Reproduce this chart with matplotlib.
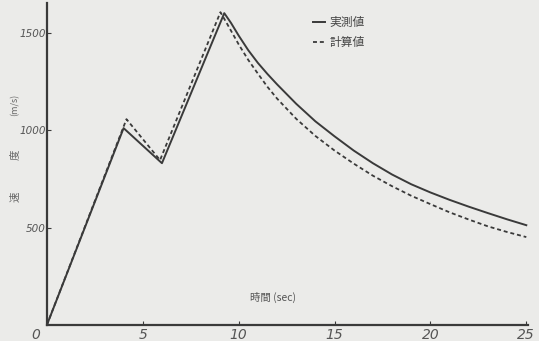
import matplotlib
matplotlib.use("Agg")
import matplotlib.pyplot as plt

plt.rcParams['font.family'] = ['Noto Sans CJK JP', 'DejaVu Sans']

# measured (実測値) - solid
t_meas = [0, 4.0, 6.0, 9.25, 9.6, 10, 10.5, 11, 11.5, 12, 13, 14, 15, 16, 17,
          18, 19, 20, 21, 22, 23, 24, 25]
v_meas = [0, 1010, 830, 1600, 1550, 1485, 1410, 1345, 1288, 1235, 1135, 1045,
          968, 895, 830, 772, 722, 680, 642, 607, 574, 542, 512]

# calculated (計算値) - dashed
t_calc = [0, 4.15, 5.9, 9.05, 9.4, 10, 10.5, 11, 11.5, 12, 13, 14, 15, 16, 17,
          18, 19, 20, 21, 22, 23, 24, 25]
v_calc = [0, 1056, 846, 1605, 1545, 1440, 1360, 1290, 1222, 1162, 1058, 970,
          895, 828, 766, 712, 663, 620, 578, 541, 506, 477, 451]

x_ticks = [5, 10, 15, 20, 25]
y_ticks = [500, 1000, 1500]

bg = '#ebebe9'
ink = '#3a3a3a'
dash = (0, (2.2, 1.6))

fig = plt.figure(figsize=(5.39, 3.41), dpi=100, facecolor=bg)
ax = fig.add_axes([0.087, 0.047, 0.893, 0.943], facecolor=bg)

ax.plot(t_meas, v_meas, color=ink, lw=1.4, label='実測値')
ax.plot(t_calc, v_calc, color=ink, lw=1.3, ls=dash, label='計算値')

ax.set_xlim(0, 25.1)
ax.set_ylim(0, 1650)
for s in ['top', 'right']:
    ax.spines[s].set_visible(False)
for s in ['left', 'bottom']:
    ax.spines[s].set_color(ink)
    ax.spines[s].set_linewidth(1.6)

ax.set_xticks(x_ticks)
ax.set_yticks(y_ticks)
ax.set_xticklabels([str(v) for v in x_ticks], fontstyle='italic', fontsize=10,
                   color='#555555', family='DejaVu Sans')
ax.set_yticklabels([str(v) for v in y_ticks], fontstyle='italic', fontsize=7.5,
                   color='#555555', family='DejaVu Sans')
ax.tick_params(axis='both', direction='in', length=3, color=ink, width=0.8)
ax.tick_params(axis='x', pad=2)
ax.tick_params(axis='y', pad=1)

ax.text(-0.35, -15, '0', fontstyle='italic', fontsize=10, color='#555555',
        ha='right', va='top', family='DejaVu Sans')

# y label pieces: 速 / 度 / (m/s), stacked along the left edge
fig.text(0.028, 1 - 197 / 341, '速', rotation=90, fontsize=7.5,
         color='#666666', ha='center', va='center')
fig.text(0.028, 1 - 155 / 341, '度', rotation=90, fontsize=7.5,
         color='#666666', ha='center', va='center')
fig.text(0.028, 1 - 105 / 341, '(m/s)', rotation=90, fontsize=6.5,
         color='#666666', ha='center', va='center')
ax.text(10.6, 140, '時間 (sec)', fontsize=7.5, color='#555555', va='center')

ax.legend(loc='upper left', bbox_to_anchor=(0.54, 0.978),
          frameon=False, fontsize=8.5, handlelength=1.0, handletextpad=0.4,
          labelspacing=0.55, labelcolor='#444444', borderpad=0)

fig.savefig('out.png', dpi=100, facecolor=bg)
